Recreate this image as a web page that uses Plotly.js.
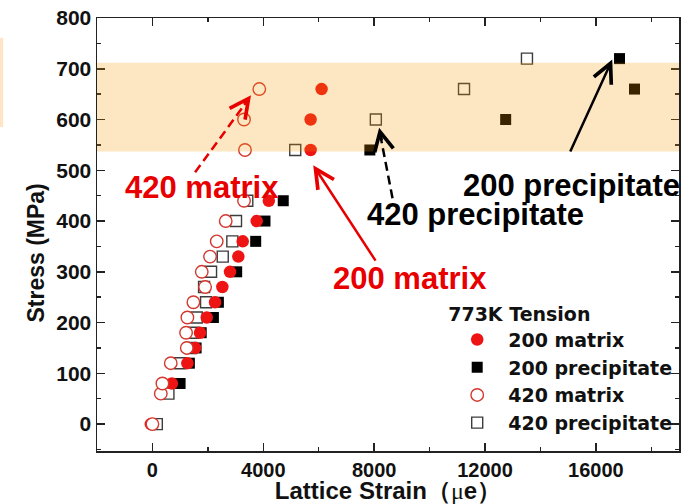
<!DOCTYPE html>
<html><head><meta charset="utf-8">
<script src="https://cdn.plot.ly/plotly-3.0.1.min.js"></script>
<style>html,body{margin:0;padding:0;background:#fff}#chart{width:689px;height:504px}</style>
</head><body><div id="chart"></div>
<script>
// ---- data ----
const seriesNames = ['200 matrix', '200 precipitate', '420 matrix', '420 precipitate'];

const m200Stress = [0, 80, 120, 150, 180, 210, 240, 270, 300, 330, 360, 400, 440, 540, 600, 660];
const m200Strain = [-60, 700, 1261, 1540, 1718, 1960, 2260, 2523, 2800, 3100, 3258, 3762, 4200, 5708, 5708, 6104];

const p200Stress = [80, 120, 150, 180, 210, 240, 300, 360, 400, 440, 540, 600, 660, 720];
const p200Strain = [998, 1333, 1575, 1760, 2200, 2380, 3040, 3726, 4061, 4720, 7845, 12746, 17395, 16854];

const m420Stress = [0, 60, 80, 120, 150, 180, 210, 240, 270, 300, 330, 360, 400, 440, 540, 600, 660];
const m420Strain = [0, 302, 360, 662, 1240, 1214, 1261, 1478, 1900, 1780, 2079, 2320, 2645, 3305, 3340, 3305, 3856];

const p420Stress = [0, 60, 120, 150, 180, 210, 240, 270, 300, 330, 360, 400, 440, 540, 600, 660, 720];
const p420Strain = [158, 577, 998, 1395, 1478, 1600, 1935, 1863, 2115, 2537, 2883, 3016, 3423, 5153, 8061, 11243, 13514];

const xTickVals = [0, 4000, 8000, 12000, 16000];
const xTickText = ['0', '4000', '8000', '12000', '16000'];
const yTickVals = [0, 100, 200, 300, 400, 500, 600, 700, 800];
const yTickText = ['0', '100', '200', '300', '400', '500', '600', '700', '800'];

const bandStress = [537, 712];
const legendTitle = '773K Tension';
const xTitle = 'Lattice Strain\uFF08<span style="font-family:\'Liberation Serif\',serif;font-weight:normal">\u03BC</span>e\uFF09';
const yTitle = 'Stress (MPa)';

// ---- styling ----
const FONT = "'Liberation Sans', Arial, sans-serif";
const LFONT = "'DejaVu Sans', 'Liberation Sans', sans-serif";
const RED = 'rgb(232,0,0)';
const axisCol = '#222';

const traces = [
  {name: seriesNames[1], x: p200Strain, y: p200Stress, legendrank: 2,
   marker: {symbol: 'square', size: 11, color: '#000', line: {width: 0}}},
  {name: seriesNames[3], x: p420Strain, y: p420Stress, legendrank: 4,
   marker: {symbol: 'square', size: 11, color: '#fff', line: {width: 1.4, color: 'rgb(60,60,60)'}}},
  {name: seriesNames[0], x: m200Strain, y: m200Stress, legendrank: 1,
   marker: {symbol: 'circle', size: 12.5, color: 'rgb(238,20,20)', line: {width: 0}}},
  {name: seriesNames[2], x: m420Strain, y: m420Stress, legendrank: 3,
   marker: {symbol: 'circle', size: 12.5, color: '#fff', line: {width: 1.4, color: 'rgb(212,55,45)'}}}
].map(t => Object.assign({type: 'scatter', mode: 'markers', cliponaxis: true}, t));

function axisBase() {
  return {
    showline: true, linecolor: axisCol, linewidth: 1.5, mirror: 'ticks',
    ticks: 'inside', ticklen: 8, tickwidth: 1.5, tickcolor: axisCol,
    showgrid: false, zeroline: false, tickmode: 'array',
    tickfont: {family: FONT, size: 21, color: '#111', weight: 700}
  };
}

const xaxis = Object.assign(axisBase(), {
  range: [-2000, 19000], tickvals: xTickVals, ticktext: xTickText,
  tickfont: {family: FONT, size: 20, color: '#111', weight: 700},
  minor: {dtick: 2000, tick0: 0, ticks: 'inside', ticklen: 4, tickwidth: 1.5, tickcolor: axisCol},
  title: {text: xTitle, font: {family: FONT, size: 24, color: '#111', weight: 700}, standoff: 11}
});
const yaxis = Object.assign(axisBase(), {
  range: [-53, 800], tickvals: yTickVals, ticktext: yTickText,
  minor: {dtick: 50, tick0: 0, ticks: 'inside', ticklen: 4, tickwidth: 1.5, tickcolor: axisCol}
});

const txt = (text, x, y, color) => ({text, x, y, xref: 'x', yref: 'y', showarrow: false,
  xanchor: 'center', yanchor: 'middle', font: {family: FONT, size: 31, color, weight: 700}});
const arrow = (x, y, ax, ay, color, rel) => Object.assign({text: '', x, y, xref: 'x', yref: 'y',
  showarrow: true, arrowhead: 5, arrowsize: 1.5, arrowwidth: 2.5, arrowcolor: color, standoff: 0},
  rel ? {ax, ay, axref: 'pixel', ayref: 'pixel'} : {ax, ay, axref: 'x', ayref: 'y'});

const annotations = [
  // y-axis title (placed as in the reference, slightly below the plot centre)
  {text: yTitle, xref: 'paper', yref: 'paper', x: -0.1048, y: 0.456, textangle: -90,
   showarrow: false, xanchor: 'center', yanchor: 'middle',
   font: {family: FONT, size: 23, color: '#111', weight: 700}},
  txt('420 matrix', 1773, 466, RED),
  txt('200 matrix', 9287, 287, RED),
  txt('420 precipitate', 11647, 412, '#000'),
  txt('200 precipitate', 15120, 470, '#000'),
  arrow(3557, 648, -8, 11, RED, true),
  arrow(5802, 510, 8086, 319, RED, false),
  arrow(8180, 584, 3, 14, '#000', true),
  arrow(16591, 718, 15052, 534, '#000', false)
];

const shapes = [
  {type: 'rect', xref: 'paper', yref: 'y', x0: 0, x1: 1, y0: bandStress[0], y1: bandStress[1],
   fillcolor: 'rgba(247,152,0,0.235)', line: {width: 0}, layer: 'above'},
  {type: 'line', xref: 'x', yref: 'y', x0: 1539, y0: 496, x1: 3400, y1: 635,
   line: {color: RED, width: 2.5, dash: '9px,5px'}, layer: 'above'},
  {type: 'line', xref: 'x', yref: 'y', x0: 8663, y0: 445, x1: 8220, y1: 570,
   line: {color: '#000', width: 2.5, dash: '9px,5px'}, layer: 'above'},
  // remnant of neighbouring panel at the far left edge
  {type: 'rect', xref: 'paper', yref: 'paper', x0: -0.1667, x1: -0.1612, y0: 0.748, y1: 0.954,
   fillcolor: 'rgb(253,229,197)', line: {width: 0}, layer: 'below'}
];

const layout = {
  width: 689, height: 504,
  margin: {l: 97, r: 10, t: 18, b: 53, pad: 0},
  paper_bgcolor: '#fff', plot_bgcolor: '#fff',
  font: {family: FONT, color: '#111'},
  xaxis, yaxis, annotations, shapes,
  showlegend: true,
  legend: {x: 0.6, xanchor: 'left', y: 0.358, yanchor: 'top', bgcolor: 'rgba(0,0,0,0)',
           borderwidth: 0, itemwidth: 52, tracegroupgap: 0,
           font: {family: LFONT, size: 19, color: '#111', weight: 700},
           title: {text: legendTitle, font: {family: LFONT, size: 19, color: '#111', weight: 700}}}
};

Plotly.newPlot('chart', traces, layout, {displayModeBar: false, staticPlot: true});
</script>
</body></html>
